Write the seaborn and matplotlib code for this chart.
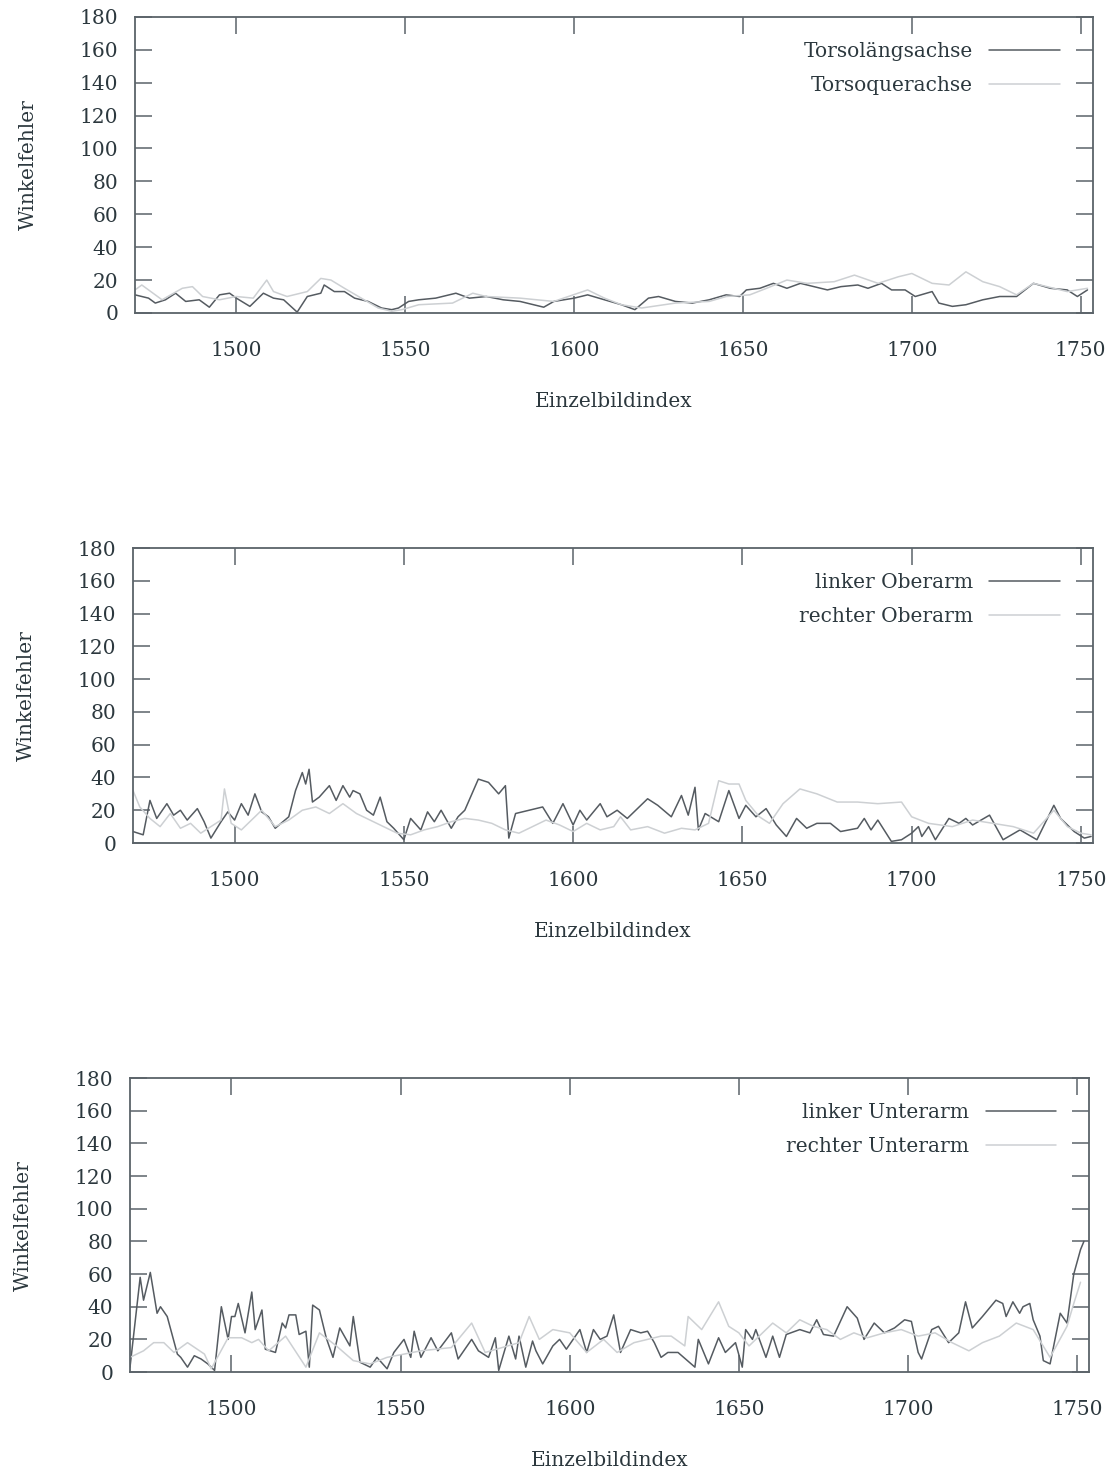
import matplotlib
matplotlib.use("Agg")
import matplotlib.pyplot as plt
import seaborn as sns

# --- data (frame index -> angular error) ---
torso_long_x = [1470, 1474, 1476, 1479, 1482, 1485, 1489, 1492, 1495, 1498, 1500, 1504, 1508, 1511,
                1514, 1518, 1521, 1525, 1526, 1529, 1532, 1535, 1539, 1543, 1546, 1548, 1551, 1554,
                1559, 1565, 1569, 1574, 1579, 1584, 1591, 1594, 1600, 1604, 1609, 1614, 1618, 1622,
                1625, 1630, 1635, 1640, 1645, 1649, 1651, 1655, 1659, 1663, 1667, 1671, 1675, 1679,
                1684, 1687, 1691, 1694, 1698, 1701, 1706, 1708, 1712, 1716, 1721, 1726, 1731, 1736,
                1741, 1746, 1749, 1752]
torso_long_y = [11, 9, 6, 8, 12, 7, 8, 3.5, 11, 12, 9, 4, 12, 9,
                8, 0.5, 10, 12, 17, 13, 13, 9, 7, 3, 2, 3, 7, 8,
                9, 12, 9, 10, 8, 7, 3.5, 7, 9, 11, 8, 5, 2, 9,
                10, 7, 6, 8, 11, 10, 14, 15, 18, 15, 18, 16, 14, 16,
                17, 15, 18, 14, 14, 10, 13, 6, 4, 5, 8, 10, 10, 18,
                15, 14, 10, 14]

torso_quer_x = [1470, 1472, 1478, 1484, 1487, 1490, 1495, 1500, 1505, 1509, 1511, 1515, 1521, 1525,
                1528, 1532, 1537, 1542, 1546, 1549, 1554, 1564, 1570, 1574, 1584, 1589, 1594, 1604,
                1609, 1614, 1620, 1630, 1640, 1645, 1652, 1657, 1663, 1669, 1677, 1683, 1690, 1696,
                1700, 1706, 1711, 1716, 1721, 1726, 1731, 1736, 1746, 1752]
torso_quer_y = [14, 17, 8, 15, 16, 10, 8, 10, 9, 20, 13, 10, 13, 21,
                20, 15, 9, 3, 1, 2, 5, 6, 12, 10, 9, 8, 7, 14,
                9, 5, 3, 6, 7, 10, 11, 15, 20, 18, 19, 23, 18, 22,
                24, 18, 17, 25, 19, 16, 11, 18, 13, 15]

l_upper_x = [1470, 1473, 1475, 1477, 1480, 1482, 1484, 1486, 1489, 1491, 1493, 1496, 1498, 1500,
             1502, 1504, 1506, 1508, 1510, 1512, 1516, 1518, 1520, 1521, 1522, 1523, 1525, 1528,
             1530, 1532, 1534, 1535, 1537, 1539, 1541, 1543, 1545, 1547, 1550, 1552, 1555, 1557,
             1559, 1561, 1564, 1566, 1568, 1572, 1575, 1578, 1580, 1581, 1583, 1587, 1591, 1594,
             1597, 1600, 1602, 1604, 1608, 1610, 1613, 1616, 1619, 1622, 1625, 1629, 1632, 1634,
             1636, 1637, 1639, 1643, 1646, 1649, 1651, 1654, 1657, 1660, 1663, 1666, 1669, 1672,
             1676, 1679, 1684, 1686, 1688, 1690, 1694, 1697, 1700, 1702, 1703, 1705, 1707, 1711,
             1714, 1716, 1718, 1723, 1727, 1732, 1737, 1742, 1744, 1748, 1751, 1753]
l_upper_y = [7, 5, 26, 15, 24, 17, 20, 14, 21, 13, 3, 13, 19, 14,
             24, 17, 30, 19, 16, 9, 16, 32, 43, 36, 45, 25, 28, 35,
             26, 35, 28, 32, 30, 20, 17, 28, 13, 9, 2, 15, 8, 19,
             13, 20, 9, 16, 20, 39, 37, 30, 35, 3, 18, 20, 22, 12,
             24, 11, 20, 14, 24, 16, 20, 15, 21, 27, 23, 16, 29, 17,
             34, 8, 18, 13, 32, 15, 23, 16, 21, 11, 4, 15, 9, 12,
             12, 7, 9, 15, 8, 14, 1, 2, 6, 10, 4, 10, 2, 15,
             12, 15, 11, 17, 2, 8, 2, 23, 15, 7, 3, 4]

r_upper_x = [1470, 1472, 1475, 1478, 1481, 1484, 1487, 1490, 1493, 1496, 1497, 1499, 1502, 1505,
             1508, 1512, 1516, 1520, 1524, 1528, 1532, 1536, 1540, 1544, 1548, 1552, 1556, 1560,
             1564, 1568, 1572, 1576, 1580, 1584, 1588, 1592, 1596, 1600, 1604, 1608, 1612, 1614,
             1617, 1622, 1627, 1632, 1636, 1640, 1643, 1646, 1649, 1651, 1655, 1658, 1662, 1667,
             1672, 1678, 1684, 1690, 1697, 1700, 1705, 1712, 1718, 1724, 1730, 1736, 1742, 1746,
             1750, 1753]
r_upper_y = [32, 22, 15, 10, 18, 9, 12, 6, 10, 14, 33, 12, 8, 14,
             20, 10, 14, 20, 22, 18, 24, 18, 14, 10, 6, 5, 8, 10,
             13, 15, 14, 12, 8, 6, 10, 14, 11, 7, 12, 8, 10, 16,
             8, 10, 6, 9, 8, 12, 38, 36, 36, 26, 16, 12, 24, 33,
             30, 25, 25, 24, 25, 16, 12, 10, 14, 12, 10, 6, 20, 10,
             6, 5]

l_lower_x = [1470, 1473, 1474, 1476, 1478, 1479, 1481, 1484, 1485, 1487, 1489, 1491, 1493, 1495,
             1497, 1499, 1500, 1501, 1502, 1504, 1506, 1507, 1509, 1510, 1513, 1515, 1516, 1517,
             1519, 1520, 1522, 1523, 1524, 1526, 1528, 1530, 1532, 1535, 1536, 1538, 1541, 1543,
             1546, 1548, 1551, 1553, 1554, 1556, 1559, 1561, 1565, 1567, 1571, 1573, 1576, 1578,
             1579, 1582, 1584, 1585, 1587, 1589, 1590, 1592, 1595, 1597, 1599, 1603, 1605, 1607,
             1609, 1611, 1613, 1615, 1618, 1621, 1623, 1625, 1627, 1629, 1632, 1637, 1638, 1641,
             1644, 1646, 1649, 1651, 1652, 1654, 1655, 1658, 1660, 1662, 1664, 1668, 1671, 1673,
             1675, 1678, 1682, 1685, 1687, 1690, 1693, 1696, 1699, 1701, 1703, 1704, 1707, 1709,
             1712, 1715, 1717, 1719, 1722, 1726, 1728, 1729, 1731, 1733, 1734, 1736, 1737, 1739,
             1740, 1742, 1745, 1747, 1749, 1751, 1752]
l_lower_y = [3, 58, 44, 61, 36, 40, 34, 11, 9, 3, 10, 8, 5, 1,
             40, 20, 34, 34, 42, 24, 49, 26, 38, 14, 12, 30, 27, 35,
             35, 23, 25, 3, 41, 38, 21, 9, 27, 16, 34, 6, 3, 9,
             2, 12, 20, 9, 25, 9, 21, 13, 24, 8, 20, 13, 9, 21,
             1, 22, 8, 22, 3, 19, 13, 5, 16, 20, 14, 26, 12, 26,
             20, 22, 35, 12, 26, 24, 25, 18, 9, 12, 12, 3, 20, 5,
             21, 12, 18, 3, 26, 20, 26, 9, 22, 9, 23, 26, 24, 32,
             23, 22, 40, 33, 20, 30, 24, 27, 32, 31, 12, 8, 26, 28,
             18, 24, 43, 27, 34, 44, 42, 34, 43, 36, 40, 42, 32, 22,
             7, 5, 36, 30, 60, 75, 80]

r_lower_x = [1470, 1474, 1477, 1480, 1483, 1487, 1492, 1494, 1499, 1503, 1506, 1508, 1511, 1516,
             1522, 1526, 1531, 1536, 1541, 1546, 1551, 1556, 1565, 1571, 1575, 1585, 1588, 1591,
             1595, 1600, 1605, 1610, 1614, 1619, 1627, 1630, 1634, 1635, 1639, 1644, 1647, 1650,
             1653, 1660, 1664, 1668, 1672, 1676, 1680, 1684, 1688, 1693, 1698, 1703, 1708, 1713,
             1718, 1722, 1727, 1732, 1737, 1742, 1747, 1749, 1751]
r_lower_y = [9, 13, 18, 18, 12, 18, 11, 2, 21, 21, 18, 20, 13, 22,
             3, 24, 16, 7, 5, 9, 11, 13, 15, 30, 12, 18, 34, 20,
             26, 24, 12, 20, 12, 18, 22, 22, 16, 34, 26, 43, 28, 24,
             16, 30, 24, 32, 28, 26, 20, 24, 21, 24, 26, 22, 24, 18,
             13, 18, 22, 30, 26, 9, 28, 42, 55]

panels = [
    (torso_long_x, torso_long_y, "Torsolängsachse", torso_quer_x, torso_quer_y, "Torsoquerachse"),
    (l_upper_x, l_upper_y, "linker Oberarm", r_upper_x, r_upper_y, "rechter Oberarm"),
    (l_lower_x, l_lower_y, "linker Unterarm", r_lower_x, r_lower_y, "rechter Unterarm"),
]

DARK = "#555b61"
LIGHT = "#cdd0d3"
FRAME = "#5b6369"
TEXT = "#2c383e"
FS = 14.5

sns.set_theme(style="white")
plt.rcParams["font.family"] = ["DejaVu Serif"]

fig = plt.figure(figsize=(11.16, 14.72), dpi=100)
boxes = [
    [0.121, 0.7874, 0.858, 0.2011],
    [0.1192, 0.4273, 0.860, 0.2004],
    [0.1165, 0.0679, 0.8593, 0.1997],
]

for box, (x1, y1, lab1, x2, y2, lab2) in zip(boxes, panels):
    ax = fig.add_axes(box)
    sns.lineplot(x=x1, y=y1, ax=ax, color=DARK, linewidth=1.1, label=lab1)
    sns.lineplot(x=x2, y=y2, ax=ax, color=LIGHT, linewidth=1.1, label=lab2)
    ax.set_xlim(1470, 1753.5)
    ax.set_ylim(0, 180)
    ax.set_xticks([1500, 1550, 1600, 1650, 1700, 1750])
    ax.set_yticks(range(0, 181, 20))
    ax.tick_params(axis="both", direction="in", length=12, width=1.1, color=FRAME,
                   labelcolor=TEXT, labelsize=FS, top=True, right=True,
                   bottom=True, left=True)
    ax.tick_params(axis="y", pad=12)
    ax.tick_params(axis="x", pad=20)
    for sp in ax.spines.values():
        sp.set_color(FRAME)
        sp.set_linewidth(1.3)
    ax.set_xlabel("Einzelbildindex", fontsize=FS, color=TEXT, labelpad=23)
    ax.set_ylabel("Winkelfehler", fontsize=FS, color=TEXT, labelpad=30)
    ax.legend(loc="upper right", bbox_to_anchor=(0.974, 0.942), frameon=False,
              markerfirst=False, handlelength=3.5, handletextpad=0.8,
              labelspacing=0.75, fontsize=FS, borderaxespad=0, labelcolor=TEXT)

fig.savefig("out.png", dpi=100, facecolor="white")
